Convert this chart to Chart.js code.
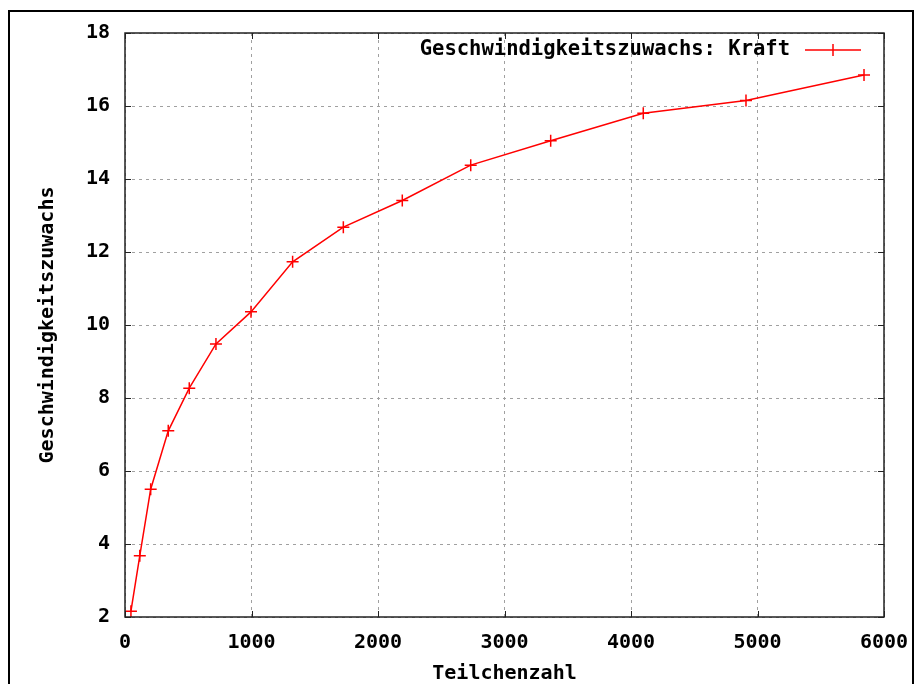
<!DOCTYPE html>
<html>
<head>
<meta charset="utf-8">
<script src="https://cdn.jsdelivr.net/npm/chart.js@4"></script>
<style>
    body { margin: 0; background: #fff; }
    canvas { display: block; }
</style>
</head>
<body>
<canvas id="chart" width="915" height="684"></canvas>
<script>
// Data
const teilchenzahl = [47, 117, 203, 342, 508, 719, 996, 1325, 1726, 2192, 2733, 3365, 4097, 4909, 5842];
const zuwachs = [2.16, 3.68, 5.50, 7.10, 8.27, 9.48, 10.36, 11.73, 12.68, 13.41, 14.38, 15.05, 15.80, 16.15, 16.85];
const seriesLabel = 'Geschwindigkeitszuwachs: Kraft';
const xTitle = 'Teilchenzahl';
const yTitle = 'Geschwindigkeitszuwachs';

const FONT = "'DejaVu Sans Mono', 'Liberation Mono', monospace";
const RED = '#ff0000';

// outer frame, plot border, inward tick marks and the legend (gnuplot look)
const gnuplotLook = {
    id: 'gnuplotLook',
    beforeDraw(chart) {
        const ctx = chart.ctx;
        ctx.save();
        ctx.strokeStyle = '#000';
        ctx.lineWidth = 2;
        ctx.beginPath();
        ctx.moveTo(9, 700);
        ctx.lineTo(9, 11);
        ctx.lineTo(913, 11);
        ctx.lineTo(913, 700);
        ctx.stroke();
        ctx.restore();
    },
    afterDraw(chart) {
        const ctx = chart.ctx;
        const area = chart.chartArea;
        const xs = chart.scales.x;
        const ys = chart.scales.y;
        ctx.save();
        ctx.strokeStyle = '#222';
        ctx.lineWidth = 1.5;
        ctx.strokeRect(area.left, area.top, area.right - area.left, area.bottom - area.top);

        ctx.beginPath();
        xs.ticks.forEach(t => {
            const px = Math.round(xs.getPixelForValue(t.value)) + 0.5;
            ctx.moveTo(px, area.bottom);
            ctx.lineTo(px, area.bottom - 6);
            ctx.moveTo(px, area.top);
            ctx.lineTo(px, area.top + 6);
        });
        ys.ticks.forEach(t => {
            const py = Math.round(ys.getPixelForValue(t.value)) + 0.5;
            ctx.moveTo(area.left, py);
            ctx.lineTo(area.left + 6, py);
            ctx.moveTo(area.right, py);
            ctx.lineTo(area.right - 6, py);
        });
        ctx.lineWidth = 1;
        ctx.stroke();

        // legend
        const ds = chart.data.datasets[0];
        ctx.font = 'bold 20.5px ' + FONT;
        ctx.fillStyle = '#000';
        ctx.textAlign = 'right';
        ctx.textBaseline = 'middle';
        ctx.fillText(ds.label, 790, 50);
        ctx.strokeStyle = ds.borderColor;
        ctx.lineWidth = 1.5;
        ctx.beginPath();
        ctx.moveTo(805, 50);
        ctx.lineTo(861, 50);
        ctx.moveTo(833, 44);
        ctx.lineTo(833, 56);
        ctx.stroke();
        ctx.restore();
    }
};

const ctx = document.getElementById('chart').getContext('2d');
new Chart(ctx, {
    type: 'line',
    data: {
        datasets: [{
            label: seriesLabel,
            data: teilchenzahl.map((x, i) => ({ x: x, y: zuwachs[i] })),
            borderColor: RED,
            backgroundColor: RED,
            borderWidth: 1.5,
            tension: 0,
            fill: false,
            pointStyle: 'cross',
            pointRadius: 6,
            pointBorderWidth: 1.5,
            pointBorderColor: RED
        }]
    },
    options: {
        responsive: false,
        animation: false,
        layout: {
            padding: { top: 33, right: 31, left: 0, bottom: 0 }
        },
        scales: {
            x: {
                type: 'linear',
                min: 0,
                max: 6000,
                afterFit: scale => {
                    scale.height = 67;
                    scale.paddingLeft = 0;
                    scale.paddingRight = 0;
                },
                ticks: {
                    stepSize: 1000,
                    padding: 14,
                    color: '#000',
                    font: { family: FONT, size: 20, weight: 'bold' },
                    callback: value => String(value)
                },
                grid: {
                    drawTicks: false,
                    color: '#a0a0a0',
                    lineWidth: 1
                },
                border: { display: false, dash: [3, 4] },
                title: {
                    display: true,
                    text: xTitle,
                    color: '#000',
                    padding: { top: 0, bottom: 0 },
                    font: { family: FONT, size: 20, weight: 'bold', lineHeight: 1 }
                }
            },
            y: {
                min: 2,
                max: 18,
                afterFit: scale => {
                    scale.width = 125;
                    scale.paddingTop = 0;
                    scale.paddingBottom = 0;
                },
                ticks: {
                    stepSize: 2,
                    padding: 15,
                    color: '#000',
                    font: { family: FONT, size: 20, weight: 'bold' }
                },
                grid: {
                    drawTicks: false,
                    color: '#a0a0a0',
                    lineWidth: 1
                },
                border: { display: false, dash: [3, 4] },
                title: {
                    display: true,
                    text: yTitle,
                    color: '#000',
                    padding: { top: 38, bottom: 0 },
                    font: { family: FONT, size: 20, weight: 'bold', lineHeight: 1 }
                }
            }
        },
        plugins: {
            legend: { display: false },
            tooltip: { enabled: false }
        }
    },
    plugins: [gnuplotLook]
});
</script>
</body>
</html>
